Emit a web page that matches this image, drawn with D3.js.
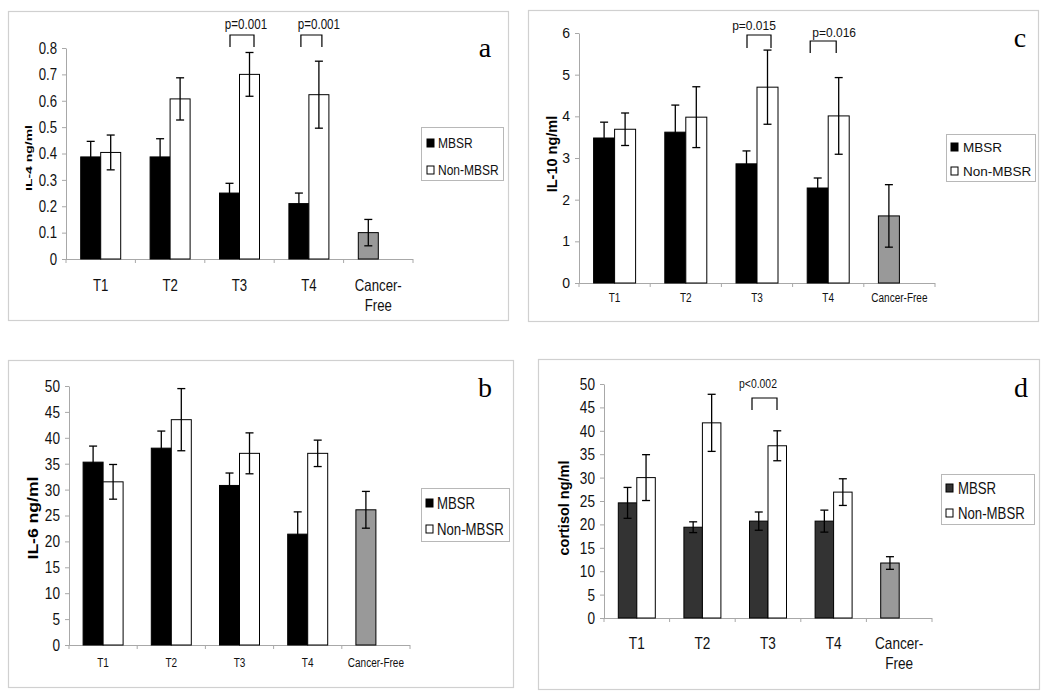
<!DOCTYPE html>
<html><head><meta charset="utf-8">
<script src="https://cdn.jsdelivr.net/npm/d3@7"></script>
<style>body{margin:0;background:#fff}</style>
</head><body>
<svg id="chart" width="1050" height="698"></svg>
<script>
// ---------- data ----------
const categories = ["T1", "T2", "T3", "T4", "Cancer-Free"];
const seriesNames = ["MBSR", "Non-MBSR"];

// (a) IL-4
const il4Mbsr = [0.387, 0.387, 0.25, 0.21];
const il4MbsrErr = [0.059, 0.069, 0.037, 0.04];
const il4Non = [0.404, 0.607, 0.70, 0.623];
const il4NonErr = [0.066, 0.08, 0.083, 0.127];
const il4Free = 0.10, il4FreeErr = 0.05;
const il4Ticks = [0, 0.1, 0.2, 0.3, 0.4, 0.5, 0.6, 0.7, 0.8];
const il4Pvals = [{cat: "T3", text: "p=0.001"}, {cat: "T4", text: "p=0.001"}];

// (b) IL-6
const il6Mbsr = [35.3, 38.0, 30.8, 21.4];
const il6MbsrErr = [3.1, 3.3, 2.4, 4.3];
const il6Non = [31.5, 43.5, 37.0, 37.0];
const il6NonErr = [3.35, 6.0, 3.95, 2.55];
const il6Free = 26.1, il6FreeErr = 3.55;
const il6Ticks = [0, 5, 10, 15, 20, 25, 30, 35, 40, 45, 50];

// (c) IL-10
const il10Mbsr = [3.48, 3.62, 2.86, 2.28];
const il10MbsrErr = [0.38, 0.65, 0.31, 0.24];
const il10Non = [3.69, 3.98, 4.70, 4.01];
const il10NonErr = [0.39, 0.73, 0.89, 0.92];
const il10Free = 1.61, il10FreeErr = 0.75;
const il10Ticks = [0, 1, 2, 3, 4, 5, 6];
const il10Pvals = [{cat: "T3", text: "p=0.015"}, {cat: "T4", text: "p=0.016"}];

// (d) cortisol
const cortMbsr = [24.6, 19.4, 20.7, 20.7];
const cortMbsrErr = [3.3, 1.15, 1.95, 2.35];
const cortNon = [30.0, 41.7, 36.8, 26.9];
const cortNonErr = [4.9, 6.1, 3.2, 2.85];
const cortFree = 11.75, cortFreeErr = 1.35;
const cortTicks = [0, 5, 10, 15, 20, 25, 30, 35, 40, 45, 50];
const cortPvals = [{cat: "T3", text: "p<0.002"}];

// ---------- drawing ----------
const ARIAL = "'Liberation Sans',Arial,sans-serif";
const SERIF = "'Liberation Serif','Times New Roman',serif";
const svg = d3.select("#chart");

// emulate a condensed face by compressing the glyphs horizontally
function squeeze(sel, f) {
  if (!f || f === 1) return;
  sel.each(function () {
    const l = this.getComputedTextLength();
    d3.select(this).attr("textLength", l * f).attr("lengthAdjust", "spacingAndGlyphs");
  });
}

function panel(c) {
  const g = svg.append("g");
  g.append("rect").attr("x", c.frame[0] + 0.5).attr("y", c.frame[1] + 0.5)
    .attr("width", c.frame[2] - c.frame[0]).attr("height", c.frame[3] - c.frame[1])
    .attr("fill", "#fff").attr("stroke", "#d0d0d0").attr("stroke-width", 1.2);

  const y = d3.scaleLinear().domain([0, c.max]).range([c.zeroY, c.topY]);
  const x = d3.scaleBand().domain(categories).range([c.x0, c.x1]);
  const bw = x.bandwidth();

  // y axis
  const ya = g.append("g").attr("transform", `translate(${c.x0},0)`)
    .call(d3.axisLeft(y).tickValues(c.ticks).tickSize(4).tickSizeOuter(0).tickPadding(5).tickFormat(c.fmt));
  ya.select(".domain").attr("stroke", "#a8a8a8");
  ya.selectAll(".tick line").attr("stroke", "#a8a8a8");
  const tt = ya.selectAll(".tick text").attr("font-family", ARIAL).attr("font-size", c.tickSize).attr("fill", "#111");
  squeeze(tt, c.tickSq);

  // x axis line with separators
  g.append("line").attr("x1", c.x0).attr("x2", c.x1).attr("y1", c.zeroY + 0.5).attr("y2", c.zeroY + 0.5)
    .attr("stroke", "#a8a8a8");
  const seps = categories.map(d => x(d)).concat([c.x1]);
  g.selectAll(".sep").data(seps).enter().append("line")
    .attr("x1", d => d).attr("x2", d => d).attr("y1", c.zeroY).attr("y2", c.zeroY + 4)
    .attr("stroke", "#a8a8a8");

  // x labels
  categories.forEach(cat => {
    const lines = (cat === "Cancer-Free" && c.wrapCF) ? ["Cancer-", "Free"] : [cat];
    lines.forEach((ln, k) => {
      const t = g.append("text").attr("x", x(cat) + bw / 2).attr("y", c.labelY + k * (c.lineGap || 0))
        .attr("text-anchor", "middle").attr("dy", "0.35em")
        .attr("font-family", ARIAL).attr("font-size", c.xSize).attr("fill", "#111").text(ln);
      squeeze(t, c.xSq);
    });
  });

  // bars
  const bars = [];
  categories.slice(0, 4).forEach((cat, i) => {
    bars.push({x: x(cat) + bw / 2 - c.barW, v: c.mbsr[i], e: c.mbsrErr[i], fill: c.mbsrColor});
    bars.push({x: x(cat) + bw / 2, v: c.non[i], e: c.nonErr[i], fill: "#fff"});
  });
  bars.push({x: x("Cancer-Free") + bw / 2 - c.barW, v: c.free, e: c.freeErr, fill: "#999"});

  g.selectAll(".bar").data(bars).enter().append("rect")
    .attr("x", d => d.x).attr("y", d => y(d.v)).attr("width", c.barW).attr("height", d => y(0) - y(d.v))
    .attr("fill", d => d.fill).attr("stroke", "#000").attr("stroke-width", 1);

  const cap = 4;
  bars.forEach(d => {
    const cx = d.x + c.barW / 2;
    const eg = g.append("g").attr("stroke", "#000").attr("stroke-width", 1.3);
    eg.append("line").attr("x1", cx).attr("x2", cx).attr("y1", y(d.v + d.e)).attr("y2", y(d.v - d.e));
    eg.append("line").attr("x1", cx - cap).attr("x2", cx + cap).attr("y1", y(d.v + d.e)).attr("y2", y(d.v + d.e));
    eg.append("line").attr("x1", cx - cap).attr("x2", cx + cap).attr("y1", y(d.v - d.e)).attr("y2", y(d.v - d.e));
  });

  // p-value annotations
  (c.pvals || []).forEach((p, i) => {
    const a = c.pPos[i];
    const cx = x(p.cat) + bw / 2;
    g.append("path").attr("d", `M${cx + a.b0},${a.bot}V${a.top}H${cx + a.b1}V${a.bot}`)
      .attr("fill", "none").attr("stroke", "#000").attr("stroke-width", 1.2);
    const t = g.append("text").attr("x", cx + a.tx).attr("y", a.ty).attr("dy", "0.35em").attr("text-anchor", "middle")
      .attr("font-family", ARIAL).attr("font-size", c.pSize).attr("fill", "#111").text(p.text);
    squeeze(t, c.pSq);
  });

  // y label
  const yl = g.append("text").attr("transform", `translate(${c.yLab[0]},${c.yLab[1]}) rotate(-90)`)
    .attr("text-anchor", "middle").attr("dy", "0.35em")
    .attr("font-family", ARIAL).attr("font-weight", "bold").attr("font-size", c.yLabSize).attr("fill", "#000")
    .text(c.yTitle);
  if (c.yLabLen) yl.attr("textLength", c.yLabLen).attr("lengthAdjust", "spacingAndGlyphs");

  // legend
  const L = c.legend;
  g.append("rect").attr("x", L.box[0] + 0.5).attr("y", L.box[1] + 0.5)
    .attr("width", L.box[2] - L.box[0]).attr("height", L.box[3] - L.box[1])
    .attr("fill", "#fff").attr("stroke", "#b8b8b8").attr("stroke-width", 1);
  seriesNames.forEach((s, i) => {
    const ry = L.rows[i];
    g.append("rect").attr("x", L.sx).attr("y", ry - 4).attr("width", 7).attr("height", 8)
      .attr("fill", i === 0 ? c.mbsrColor : "#fff").attr("stroke", "#000").attr("stroke-width", 1);
    const t = g.append("text").attr("x", L.tx).attr("y", ry).attr("dy", "0.35em")
      .attr("font-family", ARIAL).attr("font-size", L.size).attr("fill", "#111").text(s);
    squeeze(t, L.sq);
  });

  // panel letter
  g.append("text").attr("x", c.letter[0]).attr("y", c.letter[1]).attr("text-anchor", "middle")
    .attr("font-family", SERIF).attr("font-size", 28).attr("fill", "#000").text(c.letterText);
}

const SQ = 0.8;

panel({
  frame: [8, 11, 508, 320], x0: 66, x1: 413, zeroY: 259, topY: 48, max: 0.8, ticks: il4Ticks,
  fmt: d => d === 0 ? "0" : d3.format(".1f")(d), tickSize: 16.5, tickSq: SQ,
  mbsr: il4Mbsr, mbsrErr: il4MbsrErr, non: il4Non, nonErr: il4NonErr, free: il4Free, freeErr: il4FreeErr,
  mbsrColor: "#000", barW: 20,
  labelY: 285, xSize: 16.5, xSq: SQ, wrapCF: true, lineGap: 20,
  pvals: il4Pvals, pSize: 14.5, pSq: SQ,
  pPos: [{b0: -9.5, b1: 14.5, top: 35, bot: 47, tx: 6.5, ty: 24}, {b0: -8, b1: 13, top: 35, bot: 47, tx: 10, ty: 24}],
  yTitle: "IL-4 ng/ml", yLab: [29, 158], yLabSize: 9.5, yLabLen: 66,
  legend: {box: [421, 127, 503, 180], rows: [143, 170], sx: 427, tx: 438, size: 15, sq: SQ},
  letter: [485, 57], letterText: "a"
});

panel({
  frame: [8, 360, 513, 687], x0: 69, x1: 410, zeroY: 645, topY: 386, max: 50, ticks: il6Ticks,
  fmt: d3.format("d"), tickSize: 17, tickSq: SQ,
  mbsr: il6Mbsr, mbsrErr: il6MbsrErr, non: il6Non, nonErr: il6NonErr, free: il6Free, freeErr: il6FreeErr,
  mbsrColor: "#000", barW: 20,
  labelY: 663, xSize: 12.5, xSq: SQ, wrapCF: false,
  yTitle: "IL-6 ng/ml", yLab: [33, 518], yLabSize: 14, yLabLen: 83,
  legend: {box: [421, 488, 509, 541], rows: [503, 529], sx: 426, tx: 437, size: 16.5, sq: SQ},
  letter: [485, 397], letterText: "b"
});

panel({
  frame: [528, 10, 1038, 321], x0: 579, x1: 935, zeroY: 283, topY: 33, max: 6, ticks: il10Ticks,
  fmt: d3.format("d"), tickSize: 14, tickSq: 1,
  mbsr: il10Mbsr, mbsrErr: il10MbsrErr, non: il10Non, nonErr: il10NonErr, free: il10Free, freeErr: il10FreeErr,
  mbsrColor: "#000", barW: 21,
  labelY: 298, xSize: 12.5, xSq: SQ, wrapCF: false,
  pvals: il10Pvals, pSize: 12, pSq: 1,
  pPos: [{b0: -10, b1: 14, top: 35, bot: 48, tx: -3, ty: 26}, {b0: -18, b1: 8, top: 41, bot: 53, tx: 6, ty: 33}],
  yTitle: "IL-10 ng/ml", yLab: [552, 154], yLabSize: 14.5,
  legend: {box: [946, 134, 1035, 181], rows: [147, 171], sx: 951, tx: 963, size: 13.5, sq: 1},
  letter: [1020, 47], letterText: "c"
});

panel({
  frame: [538, 359, 1039, 689], x0: 604, x1: 932, zeroY: 618, topY: 384, max: 50, ticks: cortTicks,
  fmt: d3.format("d"), tickSize: 17, tickSq: SQ,
  mbsr: cortMbsr, mbsrErr: cortMbsrErr, non: cortNon, nonErr: cortNonErr, free: cortFree, freeErr: cortFreeErr,
  mbsrColor: "#333", barW: 18.5,
  labelY: 643, xSize: 17, xSq: SQ, wrapCF: true, lineGap: 20,
  pvals: cortPvals, pSize: 13, pSq: SQ,
  pPos: [{b0: -16, b1: 9, top: 398, bot: 410, tx: -10, ty: 383}],
  yTitle: "cortisol ng/ml", yLab: [564, 508], yLabSize: 14.5, yLabLen: 95,
  legend: {box: [941, 474, 1034, 524], rows: [488, 513], sx: 946, tx: 958, size: 16.5, sq: SQ},
  letter: [1021, 397], letterText: "d"
});
</script>
</body></html>
